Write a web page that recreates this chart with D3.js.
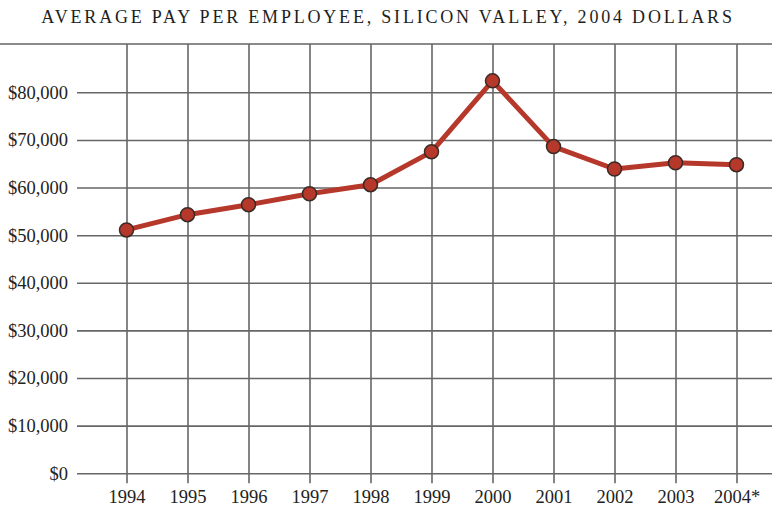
<!DOCTYPE html>
<html>
<head>
<meta charset="utf-8">
<script src="https://cdn.jsdelivr.net/npm/d3@7"></script>
<style>
  body { margin: 0; background: #fff; }
  svg { display: block; }
</style>
</head>
<body>
<div class="chart"></div>
<script>
// average pay per employee, silicon valley, in 2004 dollars
const years = ['1994', '1995', '1996', '1997', '1998', '1999', '2000', '2001', '2002', '2003', '2004*'];
const pay = [51100, 54300, 56400, 58700, 60600, 67500, 82400, 68600, 63900, 65200, 64800];
const yTicks = [0, 10000, 20000, 30000, 40000, 50000, 60000, 70000, 80000];
const title = 'AVERAGE PAY PER EMPLOYEE, SILICON VALLEY, 2004 DOLLARS';

const width = 772, height = 512;
const margin = { top: 44, right: 0, bottom: 39, left: 77 };
const serif = '"Liberation Serif", "DejaVu Serif", serif';

const svg = d3.select('.chart')
  .append('svg')
  .attr('width', width)
  .attr('height', height);

// x is a point scale over the year labels
const x = d3.scalePoint()
  .domain(years)
  .range([126.5, 736.5]);

const y = d3.scaleLinear()
  .domain([0, 80000])
  .range([473.3, 92.3]);

// title
svg.append('text')
  .text(title)
  .attr('x', 388)
  .attr('y', 23)
  .attr('text-anchor', 'middle')
  .style('font-family', serif)
  .style('font-size', '18px')
  .style('letter-spacing', '2.8px')
  .style('fill', '#1e1e1e');

// top rule
svg.append('line')
  .attr('x1', 0).attr('x2', width)
  .attr('y1', margin.top).attr('y2', margin.top)
  .attr('stroke', '#8a8a8a')
  .attr('stroke-width', 2);

// vertical grid, drawn as axis ticks so they run past the $0 line
const xAxis = svg.append('g')
  .attr('transform', `translate(0,${y(0)})`)
  .call(d3.axisBottom(x).tickSizeOuter(0).tickPadding(0));
xAxis.select('.domain').remove();
xAxis.selectAll('.tick line')
  .attr('y2', 10)
  .attr('y1', -(y(0) - margin.top))
  .attr('stroke', '#666')
  .attr('stroke-width', 1.6);
xAxis.selectAll('.tick text')
  .attr('y', 17)
  .style('font-family', serif)
  .style('font-size', '18.5px')
  .style('fill', '#222');

// horizontal grid + y labels
const yAxis = svg.append('g')
  .attr('transform', `translate(${margin.left},0)`)
  .call(d3.axisLeft(y).tickValues(yTicks).tickSize(0).tickPadding(9)
    .tickFormat(d => '$' + d3.format(',')(d)));
yAxis.select('.domain').remove();
yAxis.selectAll('.tick line')
  .attr('x1', 0)
  .attr('x2', width - margin.left)
  .attr('stroke', '#666')
  .attr('stroke-width', 1.6);
yAxis.selectAll('.tick text')
  .style('font-family', serif)
  .style('font-size', '18.5px')
  .style('fill', '#222');

const data = years.map((yr, i) => ({ year: yr, pay: pay[i] }));

// the line
svg.append('path')
  .datum(data)
  .attr('fill', 'none')
  .attr('stroke', '#b5382b')
  .attr('stroke-width', 5)
  .attr('stroke-linejoin', 'round')
  .attr('d', d3.line()
    .x(d => x(d.year))
    .y(d => y(d.pay)));

// dots
svg.append('g')
  .selectAll('circle')
  .data(data)
  .enter()
  .append('circle')
  .attr('cx', d => x(d.year))
  .attr('cy', d => y(d.pay))
  .attr('r', 7)
  .attr('fill', '#b5382b')
  .attr('stroke', '#3a2a26')
  .attr('stroke-width', 1.5);
</script>
</body>
</html>
